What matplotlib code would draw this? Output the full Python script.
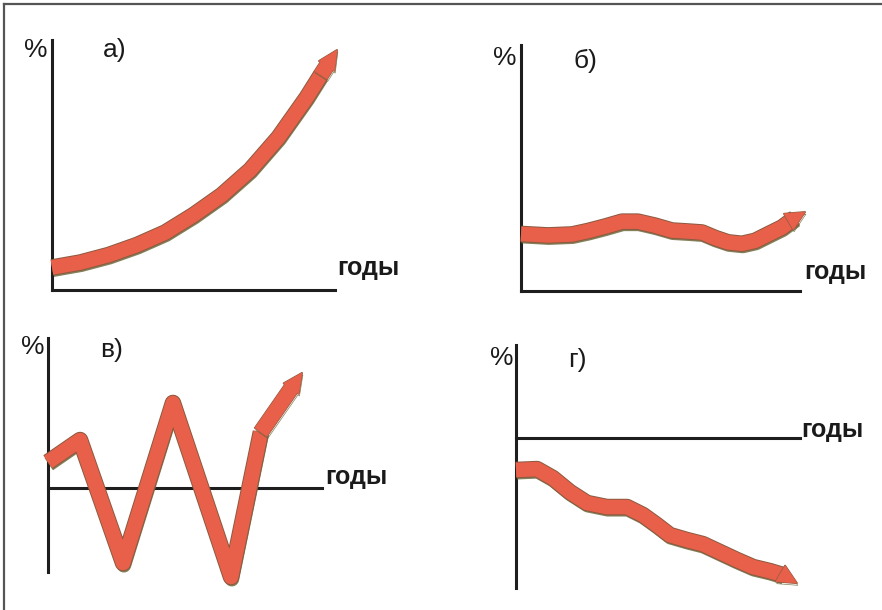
import matplotlib
matplotlib.use('Agg')
import matplotlib.pyplot as plt
import matplotlib.patheffects as pe
from matplotlib.lines import Line2D

plt.rcParams['font.family'] = ['Liberation Sans', 'DejaVu Sans']

# panel a) - steady growth
years_a = [0, 1, 2, 3, 4, 5, 6, 7, 8, 9, 9.5, 10.07]
pct_a = [0.9, 1.1, 1.4, 1.8, 2.3, 3.0, 3.8, 4.8, 6.1, 7.7, 8.6, 9.6]

# panel b) - stable
years_b = [0, 0.97, 1.83, 2.40, 3.01, 3.62, 4.19, 4.80, 5.41, 5.99, 6.49, 6.95, 7.42, 7.92, 8.39, 8.85, 9.35, 9.82, 10.18]
pct_b = [2.32, 2.26, 2.30, 2.44, 2.62, 2.82, 2.82, 2.66, 2.46, 2.42, 2.38, 2.16, 1.98, 1.92, 2.04, 2.30, 2.58, 2.97, 3.21]

# panel c) - fluctuating
years_c = [0, 1.17, 2.74, 4.56, 6.68, 7.77, 9.27]
pct_c = [1.73, 3.2, -5.0, 5.67, -5.93, 3.73, 7.67]

# panel d) - decline
years_d = [0, 0.74, 1.30, 1.90, 2.50, 3.20, 3.91, 4.47, 4.96, 5.42, 6.02, 6.58, 7.18, 7.78, 8.35, 8.94, 9.40, 9.89]
pct_d = [-2.13, -2.07, -2.67, -3.6, -4.33, -4.6, -4.6, -5.13, -5.8, -6.47, -6.8, -7.07, -7.6, -8.13, -8.6, -8.87, -9.13, -9.67]

panel_labels = ['а)', 'б)', 'в)', 'г)']
x_label = 'годы'
y_label = '%'

W, H = 882, 610
band_col = '#e8604a'
edge_col = '#8a5a40'
axis_col = '#1e1e1e'
lw_band = 10.5
fs = 19

fig = plt.figure(figsize=(W / 100, H / 100), dpi=100)
fig.patch.set_facecolor('white')


def make_ax(left, right, top, bottom, ylim, xaxis_at, ybounds):
    ax = fig.add_axes([left / W, 1 - bottom / H, (right - left) / W, (bottom - top) / H])
    ax.set_xlim(0, 10)
    ax.set_ylim(*ylim)
    ax.patch.set_alpha(0)
    for s in ['top', 'right']:
        ax.spines[s].set_visible(False)
    for s in ['left', 'bottom']:
        ax.spines[s].set_linewidth(2.2)
        ax.spines[s].set_color(axis_col)
        ax.spines[s].set_capstyle('projecting')
    ax.spines['bottom'].set_position(('data', xaxis_at))
    ax.spines['left'].set_bounds(*ybounds)
    ax.set_xticks([]); ax.set_yticks([])
    return ax


def effects(w):
    return [pe.SimpleLineShadow(offset=(0.6, -1.6), shadow_color='#6e6a3c', alpha=0.85),
            pe.Stroke(linewidth=w, foreground=edge_col),
            pe.Normal()]


def band(ax, x, y):
    ax.plot(x[:-1], y[:-1], color=band_col, lw=lw_band, solid_capstyle='butt',
            solid_joinstyle='round', clip_on=False, path_effects=effects(lw_band + 1.4), zorder=3)
    # arrow head on the last stretch, same width as the band
    ax.annotate('', xy=(x[-1], y[-1]), xytext=(x[-2], y[-2]),
                arrowprops=dict(arrowstyle='simple,head_length=1.3,head_width=1.25,tail_width=1.0',
                                fc=band_col, ec=band_col, lw=0.5, mutation_scale=lw_band,
                                shrinkA=0, shrinkB=0,
                                path_effects=[pe.SimpleLineShadow(offset=(0.6, -1.6), shadow_color='#6e6a3c', alpha=0.85),
                                              pe.Stroke(linewidth=1.4, foreground=edge_col), pe.Normal()]),
                annotation_clip=False, zorder=3)


def labels(pct_xy, lab_xy, lab, g_xy):
    fig.text(pct_xy[0] / W, 1 - pct_xy[1] / H, y_label, fontsize=fs, ha='center', va='center', color='#1a1a1a')
    fig.text(lab_xy[0] / W, 1 - lab_xy[1] / H, lab, fontsize=fs, ha='center', va='center', color='#1a1a1a')
    fig.text(g_xy[0] / W, 1 - g_xy[1] / H, x_label, fontsize=18, fontweight='bold', ha='left', va='center',
             color='#1a1a1a')


# a)
ax = make_ax(52, 335, 40, 290, (0, 10), 0, (0, 10))
band(ax, years_a, pct_a)
labels((36, 50), (115, 50), panel_labels[0], (337, 268))

# b)
ax = make_ax(521, 800, 45, 291, (0, 10), 0, (0, 10))
band(ax, years_b, pct_b)
labels((505, 58), (585, 61), panel_labels[1], (804, 272))

# c)
ax = make_ax(48, 322, 338, 595, (-7.13, 10), 0, (-5.6, 10))
band(ax, years_c, pct_c)
labels((33, 347), (112, 350), panel_labels[2], (325, 477))

# d)
ax = make_ax(516, 800, 345, 593, (-10.33, 6.2), 0, (-10, 6.2))
band(ax, years_d, pct_d)
labels((502, 358), (577, 360), panel_labels[3], (801, 430))

# scan frame (left and top edges)
fig.add_artist(Line2D([3.5 / W, 3.5 / W], [0, 1 - 3.5 / H], color='#555555', lw=1.6))
fig.add_artist(Line2D([3.5 / W, 1], [1 - 3.5 / H, 1 - 3.5 / H], color='#555555', lw=1.6))

fig.savefig('out.png', dpi=100)
